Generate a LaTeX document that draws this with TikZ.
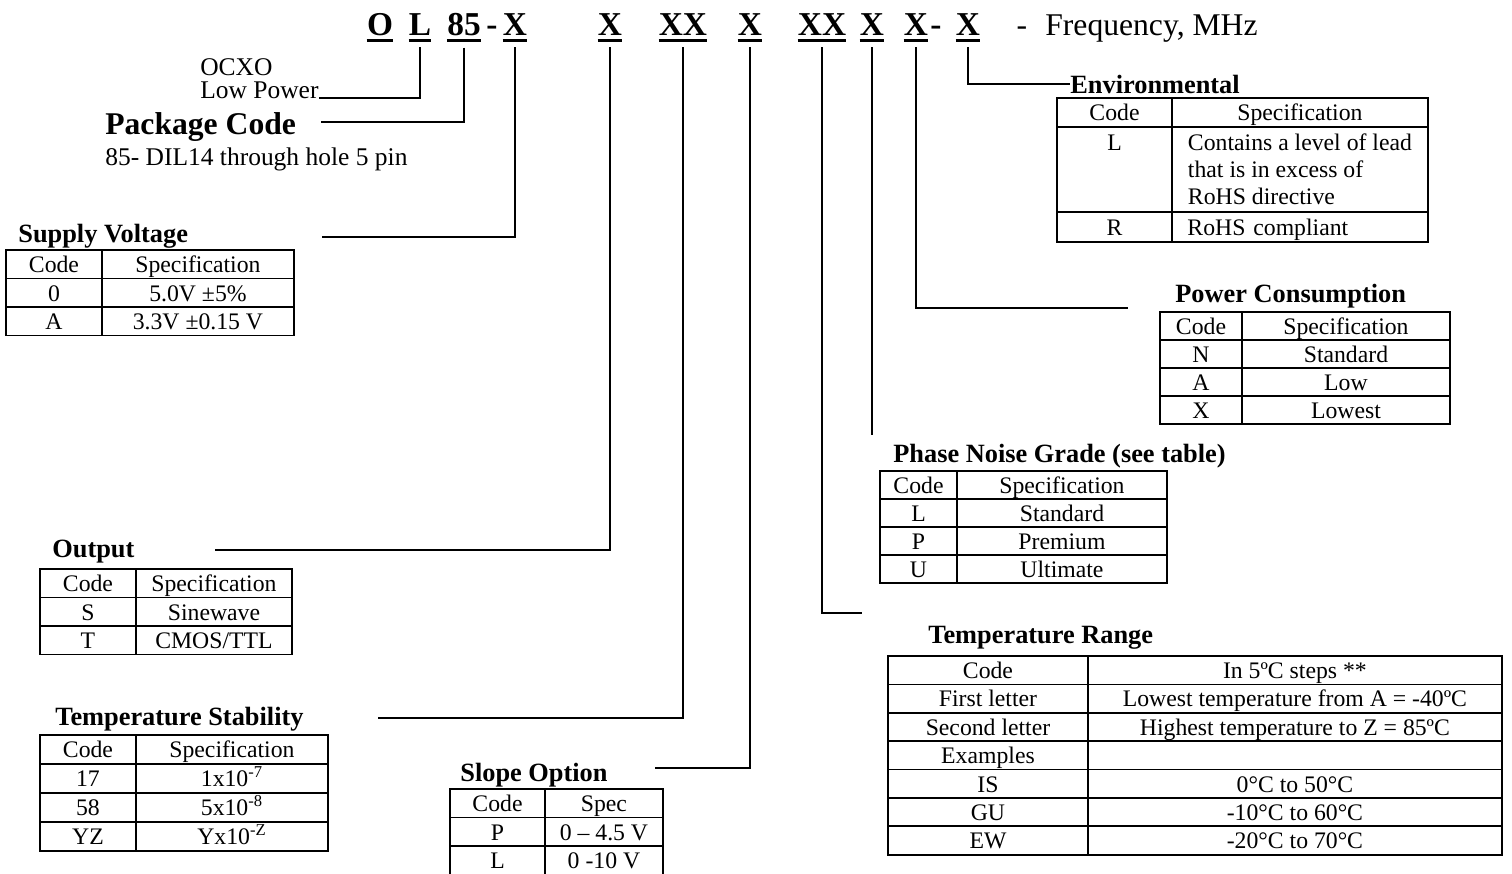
\documentclass[tikz,border=0pt]{standalone}
\usepackage{fontspec}
\setmainfont{Liberation Serif}
\usepackage{xcolor}
\usepackage{tikz}
\usetikzlibrary{positioning, calc}
\tikzset{
    partno/.style={
        font=\fontsize{19}{22}\selectfont\bfseries,
        inner sep=0pt,
        anchor=base,
        append after command={
            \pgfextra{
                \draw[line width=1.6pt] ([yshift=-0.11cm]\tikzlastnode.base west) -- ([yshift=-0.11cm]\tikzlastnode.base east);
            }
        }
    },
    hyph/.style={font=\fontsize{19}{22}\selectfont\bfseries, inner sep=0pt, anchor=base},
    freq/.style={font=\fontsize{18}{21}\selectfont, inner sep=0pt, anchor=base},
    lbl/.style={font=\fontsize{14.5}{17}\selectfont, inner sep=0pt, anchor=base west},
    thead/.style={font=\fontsize{15}{18}\selectfont\bfseries, inner sep=0pt, anchor=west},
    tbox/.style 2 args={
        draw,
        line width=1pt,
        minimum width=#1,
        minimum height=#2,
        inner sep=0pt,
        outer sep=0pt,
        font=\fontsize{13.5}{15.5}\selectfont
    },
    tcell/.style 2 args={tbox={#1}{#2}, text height=11.5pt, text depth=2pt},
    conn/.style={line width=1.6pt}
}

\begin{document}
\begin{tikzpicture}[x=0.02cm, y=-0.02cm]

\useasboundingbox[fill=white] (0,0) rectangle (1512,873);

% Part number
\node[partno] (h_O) at (380,35) {O};
\node[partno] (h_L) at (420,35) {L};
\node[partno] (h_85) at (464,35) {85};
\node[hyph] (h_d1) at (492,35) {-};
\node[partno] (h_X1) at (515,35) {X};
\node[partno] (h_X2) at (610,35) {X};
\node[partno] (h_XX1) at (683,35) {XX};
\node[partno] (h_X3) at (750,35) {X};
\node[partno] (h_XX2) at (822,35) {XX};
\node[partno] (h_X4) at (872,35) {X};
\node[partno] (h_X5) at (916,35) {X};
\node[hyph] (h_d2) at (936,35) {-};
\node[partno] (h_X6) at (968,35) {X};
\node[freq] (h_d3) at (1022,35) {-};
\node[freq, anchor=base west] (h_freq) at (1045,35) {Frequency, MHz};

% Left labels
\node[lbl] (ocxo) at (200,75) {OCXO};
\node[lbl] (low_pw) at (200,98) {Low Power};
\node[lbl, font=\fontsize{18}{21}\selectfont\bfseries] (pkg) at (105,134) {Package Code};
\node[lbl] (pkg_txt) at (105,165) {85- DIL14 through hole 5 pin};

% Table titles
\node[thead] (sv_head) at (18,236) {Supply Voltage};
\node[thead] (out_head) at (52,552) {Output};
\node[thead] (ts_head) at (55,719) {Temperature Stability};
\node[thead] (so_head) at (460,775) {Slope Option};
\node[thead] (tr_head) at (928,638) {Temperature Range};
\node[thead] (pn_head) at (893,456) {Phase Noise Grade (see table)};
\node[thead] (pc_head) at (1175,296) {Power Consumption};
\node[thead] (env_head) at (1070,84) {Environmental};

% Line ends
\coordinate (sv_end) at (322,237);
\coordinate (out_end) at (215,550);
\coordinate (ts_end) at (378,718);
\coordinate (so_end) at (655,768);
\coordinate (tr_end) at (862,613);
\coordinate (pn_end) at (872,435);
\coordinate (pc_end) at (1128,308);

% Connectors
\draw[conn] ([yshift=-0.24cm]h_L.south) |- (low_pw.base east);
\draw[conn] ([yshift=-0.24cm]h_85.south) |- ([xshift=0.5cm, yshift=0.24cm]pkg.base east);
\draw[conn] ([yshift=-0.24cm]h_X1.south) |- (sv_end);
\draw[conn] ([yshift=-0.24cm]h_X2.south) |- (out_end);
\draw[conn] ([yshift=-0.24cm]h_XX1.south) |- (ts_end);
\draw[conn] ([yshift=-0.24cm]h_X3.south) |- (so_end);
\draw[conn] ([yshift=-0.24cm]h_XX2.south) |- (tr_end);
\draw[conn] ([yshift=-0.24cm]h_X4.south) -- (h_X4.south |- pn_end);
\draw[conn] ([yshift=-0.24cm]h_X5.south) |- (pc_end);
\draw[conn] ([yshift=-0.24cm]h_X6.south) |- (env_head.west);

% Supply Voltage
\node[tcell={1.92cm}{0.57cm}, anchor=north west] (sv_11) at (6,250) {Code};
\node[tcell={3.84cm}{0.57cm}, right=0pt of sv_11] (sv_12) {Specification};
\node[tcell={1.92cm}{0.57cm}, below=0pt of sv_11] (sv_21) {0};
\node[tcell={3.84cm}{0.57cm}, right=0pt of sv_21] (sv_22) {5.0V ±5\%};
\node[tcell={1.92cm}{0.57cm}, below=0pt of sv_21] (sv_31) {A};
\node[tcell={3.84cm}{0.57cm}, right=0pt of sv_31] (sv_32) {3.3V ±0.15 V};

% Output
\node[tcell={1.92cm}{0.57cm}, anchor=north west] (out_11) at (40,569) {Code};
\node[tcell={3.12cm}{0.57cm}, right=0pt of out_11] (out_12) {Specification};
\node[tcell={1.92cm}{0.57cm}, below=0pt of out_11] (out_21) {S};
\node[tcell={3.12cm}{0.57cm}, right=0pt of out_21] (out_22) {Sinewave};
\node[tcell={1.92cm}{0.57cm}, below=0pt of out_21] (out_31) {T};
\node[tcell={3.12cm}{0.57cm}, right=0pt of out_31] (out_32) {CMOS/TTL};

% Temperature Stability
\node[tcell={1.92cm}{0.58cm}, anchor=north west] (ts_11) at (40,735) {Code};
\node[tcell={3.84cm}{0.58cm}, right=0pt of ts_11] (ts_12) {Specification};
\node[tcell={1.92cm}{0.58cm}, below=0pt of ts_11] (ts_21) {17};
\node[tcell={3.84cm}{0.58cm}, right=0pt of ts_21] (ts_22) {1x10\textsuperscript{-7}};
\node[tcell={1.92cm}{0.58cm}, below=0pt of ts_21] (ts_31) {58};
\node[tcell={3.84cm}{0.58cm}, right=0pt of ts_31] (ts_32) {5x10\textsuperscript{-8}};
\node[tcell={1.92cm}{0.58cm}, below=0pt of ts_31] (ts_41) {YZ};
\node[tcell={3.84cm}{0.58cm}, right=0pt of ts_41] (ts_42) {Yx10\textsuperscript{-Z}};

% Slope Option
\node[tcell={1.9cm}{0.57cm}, anchor=north west] (so_11) at (450,789) {Code};
\node[tcell={2.36cm}{0.57cm}, right=0pt of so_11] (so_12) {Spec};
\node[tcell={1.9cm}{0.57cm}, below=0pt of so_11] (so_21) {P};
\node[tcell={2.36cm}{0.57cm}, right=0pt of so_21] (so_22) {0 – 4.5 V};
\node[tcell={1.9cm}{0.57cm}, below=0pt of so_21] (so_31) {L};
\node[tcell={2.36cm}{0.57cm}, right=0pt of so_31] (so_32) {0 -10 V};

% Temperature Range
\node[tcell={4cm}{0.568cm}, anchor=north west] (tr_11) at (888,656) {Code};
\node[tcell={8.28cm}{0.568cm}, right=0pt of tr_11] (tr_12) {In 5ºC steps **};
\node[tcell={4cm}{0.568cm}, below=0pt of tr_11] (tr_21) {First letter};
\node[tcell={8.28cm}{0.568cm}, right=0pt of tr_21] (tr_22) {Lowest temperature from A = -40ºC};
\node[tcell={4cm}{0.568cm}, below=0pt of tr_21] (tr_31) {Second letter};
\node[tcell={8.28cm}{0.568cm}, right=0pt of tr_31] (tr_32) {Highest temperature to Z = 85ºC};
\node[tcell={4cm}{0.568cm}, below=0pt of tr_31] (tr_41) {Examples};
\node[tcell={8.28cm}{0.568cm}, right=0pt of tr_41] (tr_42) {};
\node[tcell={4cm}{0.568cm}, below=0pt of tr_41] (tr_51) {IS};
\node[tcell={8.28cm}{0.568cm}, right=0pt of tr_51] (tr_52) {0°C to 50°C};
\node[tcell={4cm}{0.568cm}, below=0pt of tr_51] (tr_61) {GU};
\node[tcell={8.28cm}{0.568cm}, right=0pt of tr_61] (tr_62) {-10°C to 60°C};
\node[tcell={4cm}{0.568cm}, below=0pt of tr_61] (tr_71) {EW};
\node[tcell={8.28cm}{0.568cm}, right=0pt of tr_71] (tr_72) {-20°C to 70°C};

% Phase Noise Grade
\node[tcell={1.54cm}{0.56cm}, anchor=north west] (pn_11) at (880,471) {Code};
\node[tcell={4.2cm}{0.56cm}, right=0pt of pn_11] (pn_12) {Specification};
\node[tcell={1.54cm}{0.56cm}, below=0pt of pn_11] (pn_21) {L};
\node[tcell={4.2cm}{0.56cm}, right=0pt of pn_21] (pn_22) {Standard};
\node[tcell={1.54cm}{0.56cm}, below=0pt of pn_21] (pn_31) {P};
\node[tcell={4.2cm}{0.56cm}, right=0pt of pn_31] (pn_32) {Premium};
\node[tcell={1.54cm}{0.56cm}, below=0pt of pn_31] (pn_41) {U};
\node[tcell={4.2cm}{0.56cm}, right=0pt of pn_41] (pn_42) {Ultimate};

% Power Consumption
\node[tcell={1.64cm}{0.56cm}, anchor=north west] (pc_11) at (1160,312) {Code};
\node[tcell={4.16cm}{0.56cm}, right=0pt of pc_11] (pc_12) {Specification};
\node[tcell={1.64cm}{0.56cm}, below=0pt of pc_11] (pc_21) {N};
\node[tcell={4.16cm}{0.56cm}, right=0pt of pc_21] (pc_22) {Standard};
\node[tcell={1.64cm}{0.56cm}, below=0pt of pc_21] (pc_31) {A};
\node[tcell={4.16cm}{0.56cm}, right=0pt of pc_31] (pc_32) {Low};
\node[tcell={1.64cm}{0.56cm}, below=0pt of pc_31] (pc_41) {X};
\node[tcell={4.16cm}{0.56cm}, right=0pt of pc_41] (pc_42) {Lowest};

% Environmental
\node[tcell={2.3cm}{0.58cm}, anchor=north west] (env_11) at (1057,98) {Code};
\node[tcell={5.12cm}{0.58cm}, right=0pt of env_11] (env_12) {Specification};
\node[tbox={2.3cm}{1.7cm}, below=0pt of env_11, align=center] (env_21) {L\\\mbox{}\\\mbox{}};
\node[tbox={5.12cm}{1.7cm}, right=0pt of env_21, align=left] (env_22) {Contains a level of lead\\that is in excess of\\RoHS directive};
\node[tcell={2.3cm}{0.6cm}, below=0pt of env_21] (env_31) {R};
\node[tcell={5.12cm}{0.6cm}, right=0pt of env_31, align=left, inner xsep=0.31cm, text width=4.5cm] (env_32) {RoHS compliant};

\end{tikzpicture}
\end{document}
